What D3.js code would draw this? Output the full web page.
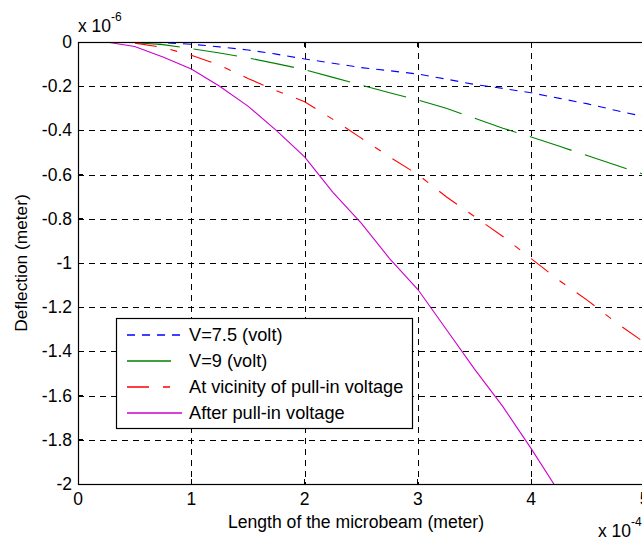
<!DOCTYPE html>
<html>
<head>
<meta charset="utf-8">
<script src="https://cdn.jsdelivr.net/npm/d3@7"></script>
<style>
  body { margin: 0; background: #fff; }
  svg { display: block; font-family: "Liberation Sans", Arial, sans-serif; }
</style>
</head>
<body>
<svg width="642" height="539"></svg>
<script>
// data, x in 1e-4 m, deflection in 1e-6 m
const xs = [0, 0.25, 0.5, 0.75, 1, 1.25, 1.5, 1.75, 2, 2.25, 2.5, 2.75, 3, 3.25, 3.5, 3.75, 4, 4.25, 4.5, 4.75, 5];
const v75 = [0, 0, 0, -0.003, -0.01, -0.022, -0.036, -0.055, -0.077, -0.096, -0.116, -0.13, -0.145, -0.168, -0.192, -0.21, -0.23, -0.255, -0.28, -0.31, -0.338];
const v9 = [0, 0, -0.003, -0.012, -0.03, -0.05, -0.072, -0.098, -0.125, -0.16, -0.195, -0.23, -0.262, -0.3, -0.345, -0.39, -0.43, -0.472, -0.515, -0.558, -0.6];
const vNear = [0, 0, -0.005, -0.025, -0.06, -0.105, -0.165, -0.22, -0.27, -0.35, -0.435, -0.52, -0.6, -0.7, -0.79, -0.88, -0.98, -1.08, -1.17, -1.27, -1.36];
const vAfter = [0, 0, -0.02, -0.068, -0.122, -0.2, -0.29, -0.4, -0.52, -0.68, -0.82, -0.98, -1.12, -1.3, -1.48, -1.65, -1.84, -2.04];

const xTicks = [0, 1, 2, 3, 4, 5];
const yTicks = [0, -0.2, -0.4, -0.6, -0.8, -1, -1.2, -1.4, -1.6, -1.8, -2];

const series = [
  { name: "V=7.5 (volt)", ys: v75, color: "#0000ff", dash: "8,7" },
  { name: "V=9 (volt)", ys: v9, color: "#008000", dash: "44,14" },
  { name: "At vicinity of pull-in voltage", ys: vNear, color: "#ff0000", dash: "22,14,7,14" },
  { name: "After pull-in voltage", ys: vAfter, color: "#cc00cc", dash: null }
];

const M = { left: 78, top: 42, right: 644.5, bottom: 484 };

const svg = d3.select("svg");

const x = d3.scaleLinear().domain([0, 5]).range([M.left, M.right]);
const y = d3.scaleLinear().domain([-2, 0]).range([M.bottom, M.top]);

svg.append("defs").append("clipPath").attr("id", "plot")
  .append("rect")
  .attr("x", M.left).attr("y", M.top)
  .attr("width", M.right - M.left).attr("height", M.bottom - M.top);

// grid
const grid = svg.append("g").attr("stroke", "#000").attr("stroke-width", 1)
  .attr("stroke-dasharray", "6,5").attr("shape-rendering", "crispEdges");
grid.selectAll(".gx").data(xTicks.slice(1)).enter().append("line")
  .attr("x1", d => Math.round(x(d)) + 0.5).attr("x2", d => Math.round(x(d)) + 0.5)
  .attr("y1", M.top).attr("y2", M.bottom);
grid.selectAll(".gy").data(yTicks.slice(1, -1)).enter().append("line")
  .attr("y1", d => Math.round(y(d)) + 0.5).attr("y2", d => Math.round(y(d)) + 0.5)
  .attr("x1", M.left).attr("x2", M.right);

// curves
const line = d3.line().x(d => x(d[0])).y(d => y(d[1]));
const plot = svg.append("g").attr("clip-path", "url(#plot)");
series.forEach(s => {
  plot.append("path")
    .datum(s.ys.map((v, i) => [xs[i], v]))
    .attr("d", line)
    .attr("fill", "none")
    .attr("stroke", s.color)
    .attr("stroke-width", 1.1)
    .attr("stroke-dasharray", s.dash);
});

// axes box
svg.append("rect")
  .attr("x", M.left + 0.5).attr("y", M.top + 0.5)
  .attr("width", M.right - M.left).attr("height", M.bottom - M.top)
  .attr("fill", "none").attr("stroke", "#000").attr("stroke-width", 1.2);

// ticks
const ticks = svg.append("g").attr("stroke", "#000").attr("shape-rendering", "crispEdges");
xTicks.forEach(t => {
  ticks.append("line").attr("x1", x(t)).attr("x2", x(t)).attr("y1", M.bottom).attr("y2", M.bottom - 5);
  ticks.append("line").attr("x1", x(t)).attr("x2", x(t)).attr("y1", M.top).attr("y2", M.top + 5);
});
yTicks.forEach(t => {
  ticks.append("line").attr("y1", y(t)).attr("y2", y(t)).attr("x1", M.left).attr("x2", M.left + 5);
});

svg.append("g").selectAll("text").data(xTicks).enter().append("text")
  .attr("x", d => x(d)).attr("y", 505)
  .attr("text-anchor", "middle").attr("font-size", 17.5)
  .text(d => d);

svg.append("g").selectAll("text").data(yTicks).enter().append("text")
  .attr("x", 72).attr("y", d => y(d) + 6)
  .attr("text-anchor", "end").attr("font-size", 17.5)
  .text(d => d === 0 ? "0" : String(+d.toFixed(1)));

// exponent labels
const e6 = svg.append("text").attr("x", 78).attr("y", 32).attr("font-size", 17.5);
e6.append("tspan").text("x 10");
e6.append("tspan").attr("dy", -11).attr("font-size", 12).text("-6");
const e4 = svg.append("text").attr("x", 598).attr("y", 537).attr("font-size", 17.5);
e4.append("tspan").text("x 10");
e4.append("tspan").attr("dy", -11).attr("font-size", 12).text("-4");

// axis titles
svg.append("text").attr("x", 356).attr("y", 528).attr("text-anchor", "middle")
  .attr("font-size", 17.6).text("Length of the microbeam (meter)");
svg.append("text").attr("transform", "translate(27,263) rotate(-90)")
  .attr("text-anchor", "middle").attr("font-size", 17.3).text("Deflection (meter)");

// legend
const leg = svg.append("g");
leg.append("rect").attr("x", 116.5).attr("y", 318.5).attr("width", 296).attr("height", 110)
  .attr("fill", "#fff").attr("stroke", "#000").attr("stroke-width", 1.2);
series.forEach((s, i) => {
  const ly = 335 + i * 26;
  leg.append("line").attr("x1", 127).attr("x2", 182).attr("y1", ly).attr("y2", ly)
    .attr("stroke", s.color).attr("stroke-width", 1.3).attr("stroke-dasharray", s.dash);
  leg.append("text").attr("x", 189).attr("y", ly + 6).attr("font-size", 18.2).text(s.name);
});
</script>
</body>
</html>
